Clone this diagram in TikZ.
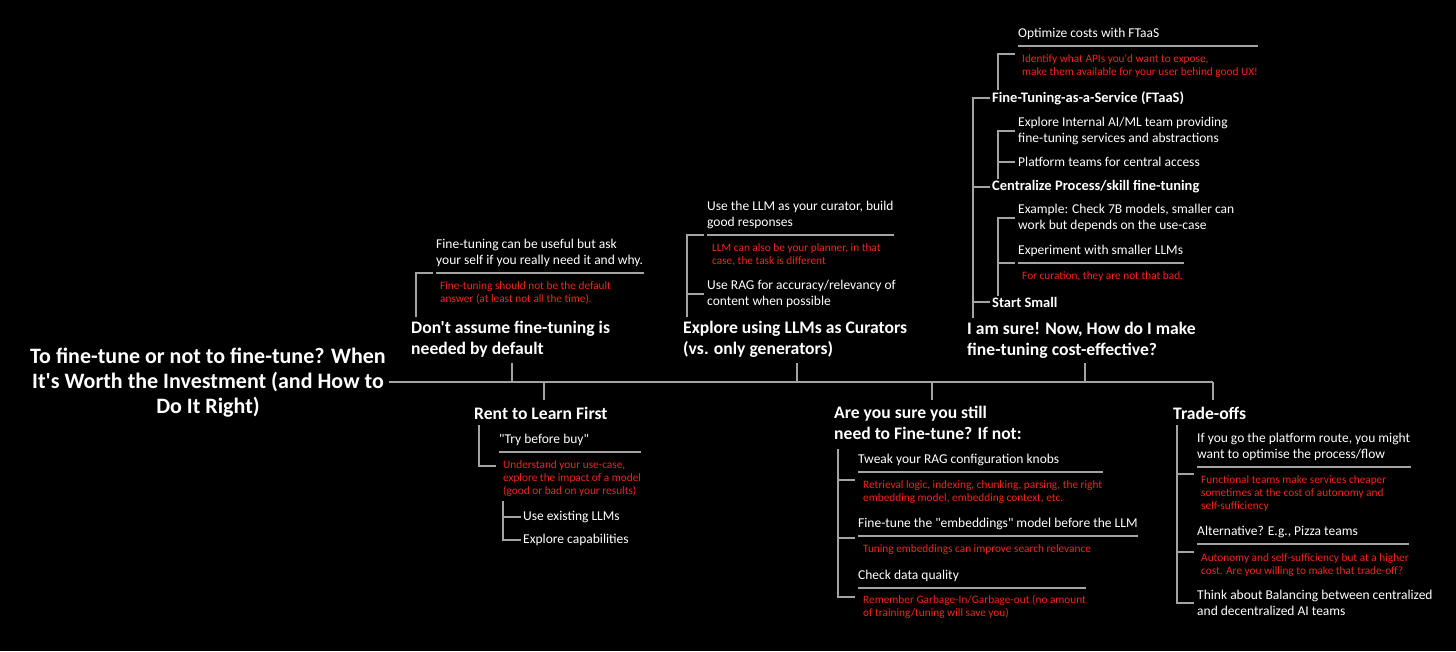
\documentclass[tikz,border=0pt]{standalone}
\usepackage{fontspec}
\setmainfont{Carlito}[Ligatures=TeXOff]
\usetikzlibrary{calc,fit,positioning}
\definecolor{ftink}{HTML}{FFFFFF}
\definecolor{ftgrey}{HTML}{A3A3A3}
\definecolor{ftred}{HTML}{F0261A}
\definecolor{ftback}{HTML}{000000}
\tikzset{
  ft title/.style={font=\bfseries\fontsize{22}{25}\selectfont, text=ftink, align=center, inner sep=0pt},
  ft head/.style={font=\bfseries\fontsize{17.6}{21}\selectfont, text=ftink, align=left, inner sep=0pt, text depth=4pt},
  ft key/.style={font=\bfseries\fontsize{14.5}{16}\selectfont, text=ftink, anchor=west, inner sep=0pt},
  ft sub/.style={font=\fontsize{13.5}{16}\selectfont, text=ftink, align=left, anchor=south west,
    inner xsep=0pt, inner ysep=5pt, text depth=3.5pt},
  ft leaf/.style={font=\fontsize{13.5}{16}\selectfont, text=ftink, align=left, anchor=west, inner sep=0pt},
  ft note/.style={font=\fontsize{11.3}{13}\selectfont, text=ftred, align=left, inner sep=0pt},
  ft line/.style={draw=ftgrey, line width=1.4pt}
}
% underline below a sub topic, as wide as the topic and its note
\newcommand{\ftrule}[2]{%
  \node[fit=(#1)(#2), inner sep=0pt] (#1g) {};
  \draw[ft line] (#1.south west) -- (#1.south west -| #1g.east);}

\begin{document}
\begin{tikzpicture}[x=1pt, y=-1pt]
  \fill[ftback] (0,0) rectangle (1456,651);
  \useasboundingbox (0,0) rectangle (1456,651);

  % central topic and spine
  \node[ft title] (title) at (208,383) {To fine-tune or not to fine-tune? When\\It's Worth the Investment (and How to\\Do It Right)};
  \coordinate (jDont) at (512,382);
  \coordinate (jRent) at (544,382);
  \coordinate (jCur) at (797,382);
  \coordinate (jSure) at (932,382);
  \coordinate (jCost) at (1085,382);
  \coordinate (jTrade) at (1213,382);
  \draw[ft line] ($(title.east |- jDont)+(3,0)$) -- (jTrade);

  % main topics
  \node[ft head, anchor=south west] (dont) at (411,359) {Don't assume fine-tuning is\\needed by default};
  \node[ft head, anchor=south west] (cur) at (683,359) {Explore using LLMs as Curators\\(vs. only generators)};
  \node[ft head, anchor=south west] (cost) at (967,360) {I am sure! Now, How do I make\\fine-tuning cost-effective?};
  \node[ft head, anchor=base west] (rent) at (474,419) {Rent to Learn First};
  \node[ft head, anchor=north west] (sure) at (834,406) {Are you sure you still\\need to Fine-tune? If not:};
  \node[ft head, anchor=base west] (trade) at (1173,419) {Trade-offs};
  \draw[ft line] (jDont) -- ($(jDont |- dont.south)+(0,4)$);
  \draw[ft line] (jCur) -- ($(jCur |- cur.south)+(0,4)$);
  \draw[ft line] (jCost) -- ($(jCost |- cost.south)+(0,3)$);
  \draw[ft line] (jRent) -- ($(jRent |- rent.north)+(0,-6)$);
  \draw[ft line] (jSure) -- ($(jSure |- sure.north)+(0,-6)$);
  \draw[ft line] (jTrade) -- ($(jTrade |- trade.north)+(0,-6)$);

  % don't assume
  \node[ft sub] (dA) at (436,273) {Fine-tuning can be useful but ask\\your self if you really need it and why.};
  \node[ft note, below right=8pt and 4pt of dA.south west] (dN) {Fine-tuning should not be the default\\answer (at least not all the time).};
  \ftrule{dA}{dN}
  \coordinate (dBar) at ($(dont.north west)+(5,-4)$);
  \draw[ft line] (dBar) |- ($(dA.south west)+(-3,0)$);

  % curators
  \node[ft sub] (cA) at (707,235) {Use the LLM as your curator, build\\good responses};
  \node[ft note, below right=8pt and 5pt of cA.south west] (cN) {LLM can also be your planner, in that\\case, the task is different};
  \ftrule{cA}{cN}
  \node[ft leaf] (cB) at (707,294) {Use RAG for accuracy/relevancy of\\content when possible};
  \coordinate (cBar) at ($(cur.north west)+(4,-4)$);
  \draw[ft line] (cBar) |- ($(cA.south west)+(-3,0)$);
  \draw[ft line] (cB.west -| cBar) -- ($(cB.west)+(-3,0)$);

  % cost-effective
  \node[ft key] (k1) at (992,98) {Fine-Tuning-as-a-Service (FTaaS)};
  \node[ft key] (k2) at (992,187) {Centralize Process/skill fine-tuning};
  \node[ft key] (k3) at (992,302) {Start Small};
  \coordinate (kBar) at ($(cost.north west)+(6,-4)$);
  \draw[ft line] (kBar) |- ($(k1.west)+(-2,0)$);
  \draw[ft line] (k2.west -| kBar) -- ($(k2.west)+(-2,0)$);
  \draw[ft line] (k3.west -| kBar) -- ($(k3.west)+(-2,0)$);

  \node[ft sub] (oA) at (1018,46) {Optimize costs with FTaaS};
  \node[ft note, below right=8pt and 4pt of oA.south west] (oN) {Identify what APIs you'd want to expose,\\make them available for your user behind good UX!};
  \ftrule{oA}{oN}
  \coordinate (k1Bar) at ($(k1.north west)+(6,-1)$);
  \draw[ft line] (k1Bar) |- ($(oA.south west)+(-3,8)$);

  \node[ft leaf] (pA) at (1018,131) {Explore Internal AI/ML team providing\\fine-tuning services and abstractions};
  \node[ft leaf] (pB) at (1018,162) {Platform teams for central access};
  \coordinate (k2Bar) at ($(k2.north west)+(6,-1)$);
  \draw[ft line] (k2Bar) |- ($(pA.west)+(-3,0)$);
  \draw[ft line] (pB.west -| k2Bar) -- ($(pB.west)+(-3,0)$);

  \node[ft leaf] (sA) at (1018,218) {Example: Check 7B models, smaller can\\work but depends on the use-case};
  \node[ft sub] (sB) at (1018,263) {Experiment with smaller LLMs};
  \node[ft note, below right=8pt and 4pt of sB.south west] (sN) {For curation, they are not that bad.};
  \ftrule{sB}{sN}
  \coordinate (k3Bar) at ($(k3.north west)+(6,-1)$);
  \draw[ft line] (k3Bar) |- ($(sA.west)+(-3,0)$);
  \draw[ft line] (sB.south west -| k3Bar) -- ($(sB.south west)+(-3,0)$);

  % rent to learn
  \node[ft sub] (tA) at (499,452) {"Try before buy"};
  \node[ft note, below right=8pt and 4pt of tA.south west] (tN) {Understand your use-case,\\explore the impact of a model\\(good or bad on your results)};
  \ftrule{tA}{tN}
  \coordinate (rBar) at ($(rent.south west)+(5,2)$);
  \draw[ft line] (rBar) |- ($(tA.south west)+(-3,14)$);
  \node[ft leaf] (uA) at (523,517) {Use existing LLMs};
  \node[ft leaf] (uB) at (523,540) {Explore capabilities};
  \coordinate (tBar) at ($(tN.south west)+(0,5)$);
  \draw[ft line] (tBar) |- ($(uB.west)+(-2,0)$);
  \draw[ft line] (uA.west -| tBar) -- ($(uA.west)+(-2,0)$);

  % are you sure
  \node[ft sub] (yA) at (858,472) {Tweak your RAG configuration knobs};
  \node[ft note, below right=8pt and 5pt of yA.south west] (yAN) {Retrieval logic, indexing, chunking, parsing, the right\\embedding model, embedding context, etc.};
  \ftrule{yA}{yAN}
  \node[ft sub] (yB) at (858,536) {Fine-tune the "embeddings" model before the LLM};
  \node[ft note, below right=8pt and 5pt of yB.south west] (yBN) {Tuning embeddings can improve search relevance};
  \ftrule{yB}{yBN}
  \node[ft sub] (yC) at (858,588) {Check data quality};
  \node[ft note, below right=7pt and 5pt of yC.south west] (yCN) {Remember Garbage-In/Garbage-out (no amount\\of training/tuning will save you)};
  \ftrule{yC}{yCN}
  \coordinate (yBar) at ($(sure.south west)+(4,5)$);
  \coordinate (yAj) at ($(yA.south west)+(-3,8)$);
  \coordinate (yBj) at ($(yB.south west)+(-3,2)$);
  \draw[ft line] (yBar) |- ($(yC.south west)+(-3,9)$);
  \draw[ft line] (yAj -| yBar) -- (yAj);
  \draw[ft line] (yBj -| yBar) -- (yBj);

  % trade-offs
  \node[ft sub] (zA) at (1197,467) {If you go the platform route, you might\\want to optimise the process/flow};
  \node[ft note, below right=8pt and 4pt of zA.south west] (zAN) {Functional teams make services cheaper\\sometimes at the cost of autonomy and\\self-sufficiency};
  \ftrule{zA}{zAN}
  \node[ft sub] (zB) at (1197,544) {Alternative? E.g., Pizza teams};
  \node[ft note, below right=9pt and 4pt of zB.south west] (zBN) {Autonomy and self-sufficiency but at a higher\\cost. Are you willing to make that trade-off?};
  \ftrule{zB}{zBN}
  \node[ft leaf] (zC) at (1197,603) {Think about Balancing between centralized\\and decentralized AI teams};
  \coordinate (zBar) at ($(trade.south west)+(4,2)$);
  \coordinate (zAj) at ($(zA.south west)+(-3,7)$);
  \coordinate (zBj) at ($(zB.south west)+(-3,8)$);
  \draw[ft line] (zBar) |- ($(zC.west)+(-3,0)$);
  \draw[ft line] (zAj -| zBar) -- (zAj);
  \draw[ft line] (zBj -| zBar) -- (zBj);
\end{tikzpicture}
\end{document}
